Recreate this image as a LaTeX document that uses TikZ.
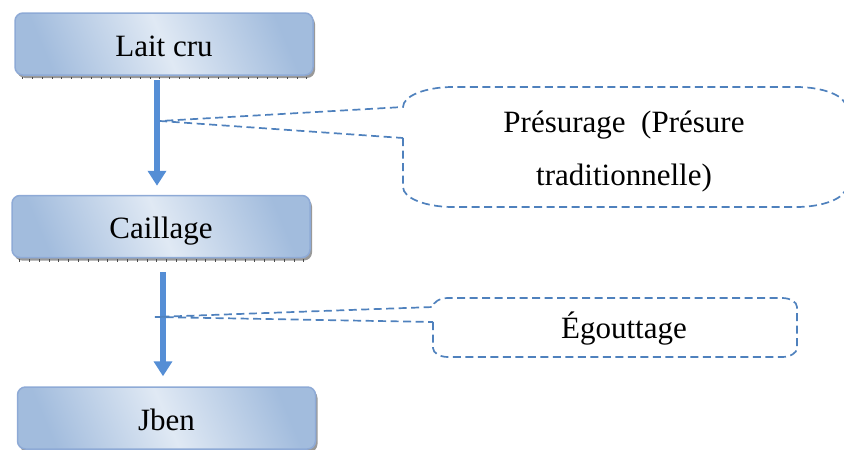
\documentclass[tikz,border=0pt]{standalone}
\usepackage{fontspec}
\setmainfont{Liberation Serif}
\usetikzlibrary{arrows.meta,shadows,calc}

\definecolor{boxdark}{HTML}{A2BCDD}
\definecolor{boxlight}{HTML}{E0E9F4}
\definecolor{boxline}{HTML}{8EAAD6}
\definecolor{flowblue}{HTML}{558ED5}
\definecolor{calloutblue}{HTML}{4F81BD}

\tikzset{
  stagebox/.style={rounded corners=8pt, draw=boxline, line width=1.5pt,
    top color=boxdark, bottom color=boxdark, middle color=boxlight, shading angle=-67,
    minimum width=298pt, minimum height=62pt, inner sep=0pt,
    text height=31pt, text depth=7pt,
    font=\fontsize{31}{37}\selectfont,
    drop shadow={shadow xshift=2pt, shadow yshift=-3pt, fill=black!40, opacity=1}},
  ruler/.style={draw=black!70, line width=2.5pt, dash pattern=on 0.8pt off 9pt},
  flow/.style={draw=flowblue, line width=6pt, -{Triangle[width=18pt,length=15pt]}},
  callout/.style={draw=calloutblue, line width=1.7pt, dash pattern=on 8pt off 4.5pt},
  calltext/.style={font=\fontsize{31}{53}\selectfont, align=center, inner sep=0pt},
}

\begin{document}
\begin{tikzpicture}[x=1pt, y=-1pt]
  \useasboundingbox (0,0) rectangle (844,450);

  % process stages
  \node[stagebox] (lait)     at (164,44)    {Lait cru};
  \node[stagebox] (caillage) at (161,226.5) {Caillage};
  \node[stagebox] (jben)     at (166.5,418) {Jben};

  % tick marks along the shadow edges
  \foreach \n in {lait,caillage} {
    \draw[ruler] ($(\n.south west)+(8,2)$) -- ($(\n.south east)+(-2,2)$);
  }

  % flow arrows
  \coordinate (a1top) at ($(lait.south)+(-7,4)$);
  \coordinate (a1end) at ($(caillage.north)+(-4,-9)$);
  \coordinate (a2top) at ($(caillage.south)+(2,14)$);
  \coordinate (a2end) at ($(jben.north)+(-3.5,-10)$);
  \draw[flow] (a1top) -- (a1end);
  \draw[flow] (a2top) -- (a2end);

  % callout for renneting (elliptical corners)
  \coordinate (tip1) at (160,121);
  \draw[callout]
    (403,138) -- (403,187)
    arc[start angle=180, end angle=270, x radius=50pt, y radius=20pt]
    -- (796,207)
    arc[start angle=270, end angle=360, x radius=50pt, y radius=20pt]
    -- (846,107)
    arc[start angle=0, end angle=90, x radius=50pt, y radius=20pt]
    -- (453,87)
    arc[start angle=90, end angle=180, x radius=50pt, y radius=20pt]
    -- (tip1) -- cycle;
  \node[calltext] (presurage) at (624,151.5) {Présurage\ \ (Présure\\traditionnelle)};

  % callout for draining
  \coordinate (tip2) at (155,317);
  \draw[callout]
    (433,322) -- (433,348)
    arc[start angle=180, end angle=270, x radius=15pt, y radius=9pt]
    -- (782,357)
    arc[start angle=270, end angle=360, x radius=15pt, y radius=9pt]
    -- (797,307)
    arc[start angle=0, end angle=90, x radius=15pt, y radius=9pt]
    -- (448,298)
    arc[start angle=90, end angle=180, x radius=15pt, y radius=9pt]
    -- (tip2) -- cycle;
  \node[calltext, anchor=base] (egouttage) at (624,338) {Égouttage};
\end{tikzpicture}
\end{document}
